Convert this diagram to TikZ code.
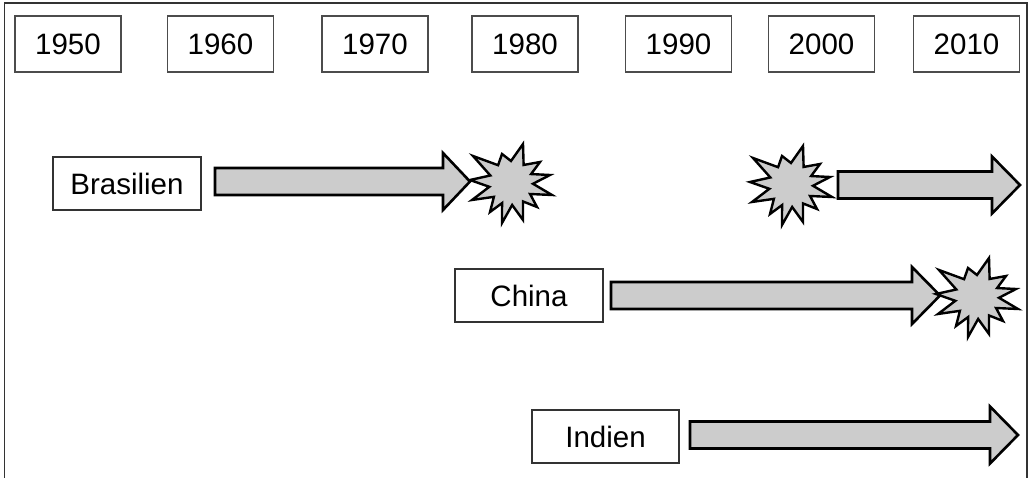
\documentclass[tikz,border=0pt]{standalone}
\usepackage{fontspec}
\setmainfont{Liberation Sans}
\begin{document}
\begin{tikzpicture}[x=1pt,y=-1pt,
  yearbox/.style={draw=black!70, line width=1.1pt, minimum width=106pt, minimum height=56pt, inner sep=0pt, font=\fontsize{29.5}{34}\selectfont},
  landbox/.style={draw=black!80, line width=1.1pt, minimum width=148pt, minimum height=53pt, inner sep=0pt, font=\fontsize{29.5}{34}\selectfont},
  fatarrow/.style={draw=black, fill=black!20, line width=2.6pt, line join=miter},
  burst/.style={draw=black, fill=black!20, line width=2.4pt, line join=miter}
]
\useasboundingbox (0,0) rectangle (1032,478);
% frame
\draw[black!80, line width=1.5pt] (4.5,478) -- (4.5,3) -- (1027,3) -- (1027,478);
% years
\node[yearbox] (y1950) at (68,44) {1950};
\node[yearbox] (y1960) at (220.5,44) {1960};
\node[yearbox] (y1970) at (375,44) {1970};
\node[yearbox] (y1980) at (525,44) {1980};
\node[yearbox] (y1990) at (678.5,44) {1990};
\node[yearbox] (y2000) at (821.5,44) {2000};
\node[yearbox] (y2010) at (966.5,44) {2010};
% countries
\node[landbox] (bra) at (127,183.5) {Brasilien};
\node[landbox] (chn) at (529,295.5) {China};
\node[landbox, minimum width=147pt] (ind) at (605.5,436.5) {Indien};
% arrows
\newcommand{\fatarr}[4]{%
  \draw[fatarrow] (#1,#4-13.5) -- (#2,#4-13.5) -- (#2,#4-28.5) -- (#3,#4) -- (#2,#4+28.5) -- (#2,#4+13.5) -- (#1,#4+13.5) -- cycle;}
\fatarr{215}{443}{470}{181.5}
\fatarr{838}{992}{1020}{185}
\fatarr{611}{912}{940}{295.5}
\fatarr{690}{990}{1018}{435}
% bursts
\newcommand{\burstat}[2]{%
  \draw[burst, shift={(#1,#2)}] (-38,-27) -- (234:22) -- (-9,-29) -- (270:22) -- (12,-39) -- (305:22) -- (29,-21) -- (336:22) -- (39,-8) -- (2:22) -- (41,12) -- (30:22) -- (26,24) -- (57:22) -- (12,37) -- (87:22) -- (-9,40) -- (114:22) -- (-21,29) -- (141:22) -- (-39,17) -- (170:22) -- (-41,-3) -- (200:22) -- cycle;}
\burstat{511}{183}
\burstat{791}{185}
\burstat{977}{297}
\end{tikzpicture}
\end{document}
